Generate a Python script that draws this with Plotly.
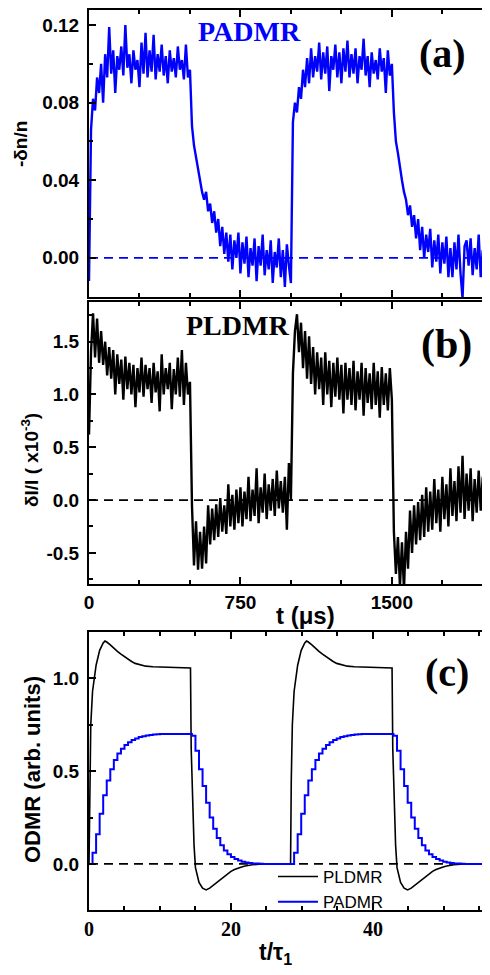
import plotly.graph_objects as go

# ---------------- data ----------------
# panels (a) and (b): time in microseconds, 10 us steps
t_us = list(range(0, 2000, 10))

padmr_a = [
    -0.012, 0.066, 0.082, 0.076, 0.093, 0.085, 0.1, 0.08, 0.105, 0.093,
    0.119, 0.095, 0.107, 0.085, 0.104, 0.097, 0.109, 0.094, 0.12, 0.098,
    0.105, 0.09, 0.107, 0.097, 0.102, 0.088, 0.111, 0.095, 0.116, 0.093,
    0.107, 0.096, 0.115, 0.092, 0.105, 0.096, 0.11, 0.094, 0.104, 0.09,
    0.107, 0.096, 0.103, 0.093, 0.109, 0.097, 0.102, 0.092, 0.11, 0.093,
    0.097, 0.068, 0.058, 0.052, 0.044, 0.04, 0.034, 0.03, 0.034, 0.024,
    0.028, 0.018, 0.024, 0.013, 0.02, 0.006, 0.016, 0.002, 0.013, -0.002,
    0.012, -0.006, 0.009, 0.0, 0.013, -0.008, 0.008, -0.003, 0.011, -0.01,
    0.005, -0.004, 0.01, -0.012, 0.006, -0.004, 0.012, -0.009, 0.004, -0.006,
    0.009, -0.013, 0.003, -0.005, 0.01, -0.01, 0.004, -0.015, 0.007, -0.004,
    -0.013, 0.07, 0.08, 0.075, 0.088, 0.082, 0.097, 0.088, 0.103, 0.09,
    0.108, 0.093, 0.104, 0.096, 0.111, 0.092, 0.106, 0.095, 0.109, 0.086,
    0.104, 0.097, 0.11, 0.093, 0.106, 0.09, 0.108, 0.096, 0.112, 0.093,
    0.105, 0.095, 0.108, 0.09, 0.104, 0.097, 0.113, 0.094, 0.104, 0.088,
    0.106, 0.095, 0.102, 0.092, 0.108, 0.096, 0.103, 0.085, 0.107, 0.094,
    0.1, 0.075, 0.06, 0.054, 0.046, 0.04, 0.034, 0.03, 0.022, 0.027,
    0.016, 0.022, 0.01, 0.02, 0.004, 0.016, 0.0, 0.012, 0.003, 0.015,
    -0.005, 0.009, -0.002, 0.012, -0.008, 0.008, -0.003, 0.011, -0.01, 0.005,
    -0.01, 0.008, -0.006, 0.012, -0.008, -0.021, 0.006, 0.009, -0.004, 0.01,
    -0.009, 0.005, -0.006, 0.012, -0.01, 0.004, -0.007, 0.009, -0.005, 0.006,
]

pldmr_b = [
    0.62, 1.4, 1.77, 1.35, 1.72, 1.3, 1.6, 1.28, 1.5, 1.18,
    1.45, 1.15, 1.42, 1.0, 1.38, 1.1, 1.33, 0.95, 1.36, 1.05,
    1.3, 1.0, 1.28, 0.88, 1.25, 1.02, 1.35, 0.98, 1.28, 1.05,
    1.25, 0.92, 1.3, 1.02, 1.22, 0.84, 1.38, 1.0, 1.25, 1.05,
    1.3, 0.86, 1.24, 1.0, 1.35, 0.98, 1.42, 0.9, 1.3, 1.0,
    1.12, -0.05, -0.62, -0.2, -0.66, -0.3, -0.65, -0.25, -0.6, -0.05,
    -0.42, -0.08, -0.38, -0.04, -0.35, 0.02, -0.3, -0.05, -0.32, 0.15,
    -0.25, 0.05, -0.28, 0.1, -0.22, 0.12, -0.25, 0.08, -0.18, 0.22,
    -0.2, 0.1, -0.15, 0.3, -0.22, 0.12, -0.12, 0.25, -0.18, 0.15,
    -0.1, 0.2, -0.15, 0.28, -0.08, 0.18, -0.12, 0.22, -0.28, 0.35,
    0.0, 1.2, 1.6, 1.76, 1.4, 1.68, 1.25, 1.6, 1.15, 1.55,
    1.1, 1.45, 1.0, 1.4, 1.05, 1.35, 0.9, 1.4, 1.0, 1.32,
    0.88, 1.3, 0.98, 1.35, 0.95, 1.28, 0.82, 1.3, 0.95, 1.25,
    0.9, 1.32, 0.85, 1.22, 0.95, 1.3, 0.8, 1.25, 0.92, 1.2,
    0.86, 1.3, 0.9, 1.22, 0.78, 1.26, 0.9, 1.2, 0.85, 1.25,
    0.95, -0.3, -0.7, -0.35, -0.82, -0.4, -0.85, -0.3, -0.65, -0.1,
    -0.5, -0.05, -0.42, -0.02, -0.38, 0.05, -0.35, 0.12, -0.3, 0.08,
    -0.28, 0.2, -0.22, 0.1, -0.3, 0.22, -0.18, 0.15, -0.25, 0.3,
    -0.15, 0.18, -0.2, 0.32, -0.12, 0.42, -0.18, 0.25, -0.1, 0.3,
    -0.2, 0.2, -0.12, 0.28, -0.1, 0.22, -0.15, 0.3, -0.05, 0.2,
]

# panel (c): model, one modulation cycle in units of t/tau1 (repeated)
cycle_period_c = 28.4
t_c_padmr = [i * 0.5 for i in range(57)]
padmr_c = [
    0.0, 0.06, 0.16, 0.27, 0.37, 0.45, 0.51, 0.56, 0.595, 0.62,
    0.64, 0.655, 0.667, 0.676, 0.683, 0.688, 0.692, 0.695, 0.697, 0.699,
    0.7, 0.7, 0.7, 0.7, 0.7, 0.7, 0.7, 0.7, 0.7,
    0.69, 0.61, 0.51, 0.42, 0.33, 0.25, 0.19, 0.14, 0.1, 0.073,
    0.052, 0.037, 0.026, 0.018, 0.012, 0.008, 0.005, 0.003, 0.002, 0.001,
    0.0, 0.0, 0.0, 0.0, 0.0, 0.0, 0.0, 0.0,
]
t_c_pldmr = [0, 0.1, 0.25, 0.5, 0.75, 1.0, 1.5, 2.0, 2.25, 2.5,
             3.0, 3.5, 4.0, 4.5, 5.0, 5.5, 6.0, 6.5, 7.0, 7.5,
             8.0, 9.0, 10.0, 12.0, 14.3, 14.4, 14.6, 14.8, 15.0, 15.5,
             16.0, 16.5, 17.0, 17.5, 18.0, 18.5, 19.0, 19.5, 20.0, 20.5,
             21.0, 21.5, 22.0, 22.5, 23.0, 24.0, 25.0, 28.0]
pldmr_c = [0.0, 0.45, 0.75, 0.93, 1.01, 1.07, 1.15, 1.19, 1.2, 1.195,
           1.18, 1.16, 1.145, 1.13, 1.115, 1.1, 1.09, 1.08, 1.075, 1.07,
           1.065, 1.062, 1.06, 1.058, 1.055, 0.62, 0.3, 0.1, -0.02, -0.1,
           -0.13, -0.14, -0.13, -0.115, -0.095, -0.08, -0.065, -0.05, -0.04, -0.03,
           -0.022, -0.016, -0.011, -0.007, -0.004, -0.002, 0.0, 0.0]

ticks_us = [0, 750, 1500]
ticks_a = [0.0, 0.04, 0.08, 0.12]
ticklabels_a = ["0.00", "0.04", "0.08", "0.12"]
ticks_b = [-0.5, 0.0, 0.5, 1.0, 1.5]
ticklabels_b = ["-0.5", "0.0", "0.5", "1.0", "1.5"]
ticks_c_x = [0, 20, 40]
ticks_c_y = [0.0, 0.5, 1.0]
ticklabels_c_y = ["0.0", "0.5", "1.0"]

BLUE = "#0000ff"
# the page body adds an 8 px margin, so the figure is drawn 8 px in from the window corner
OFF = 8
W, H = 490 - OFF, 975 - OFF

# two cycles for model curves
tx_blue = t_c_padmr + [t + cycle_period_c for t in t_c_padmr]
ty_blue = padmr_c + padmr_c
tx_black = t_c_pldmr + [t + cycle_period_c for t in t_c_pldmr]
ty_black = pldmr_c + pldmr_c

fig = go.Figure()
fig.add_trace(go.Scatter(x=t_us, y=padmr_a, xaxis="x", yaxis="y", mode="lines",
                         line=dict(color=BLUE, width=2.4), showlegend=False))
fig.add_trace(go.Scatter(x=t_us, y=pldmr_b, xaxis="x2", yaxis="y2", mode="lines",
                         line=dict(color="black", width=2.4), showlegend=False))
fig.add_trace(go.Scatter(x=tx_black, y=ty_black, xaxis="x3", yaxis="y3", mode="lines",
                         name="PLDMR", line=dict(color="black", width=1.6)))
fig.add_trace(go.Scatter(x=tx_blue, y=ty_blue, xaxis="x3", yaxis="y3", mode="lines",
                         name="PADMR", line=dict(color=BLUE, width=2, shape="hv")))


def px_x(s):
    return (s - OFF) / W


def px_y(s):
    return 1 - (s - OFF) / H


xdom = [px_x(89), 1.0]
sans_bold = dict(family="Liberation Sans, Arial", size=19, color="black", weight="bold")
serif_bold = dict(family="Liberation Serif, Times New Roman", size=20, color="black", weight="bold")

base = dict(showline=True, linecolor="black", linewidth=2, ticks="inside", ticklen=7,
            tickwidth=1.5, tickcolor="black", showgrid=False, zeroline=False, automargin=False)


def minor(d):
    return dict(dtick=d, ticks="inside", ticklen=4, tickwidth=1.5, tickcolor="black")


fig.update_layout(
    width=W, height=H, margin=dict(l=0, r=0, t=0, b=0, autoexpand=False),
    paper_bgcolor="white", plot_bgcolor="white",
    xaxis=dict(base, domain=xdom, anchor="y", range=[0, 1986], tickmode="array",
               tickvals=ticks_us, showticklabels=False, mirror="ticks", minor=minor(250)),
    yaxis=dict(base, domain=[px_y(297), px_y(10)], anchor="x", range=[-0.0202, 0.1278],
               tickmode="array", tickvals=ticks_a, ticktext=ticklabels_a, tickfont=sans_bold,
               ticklabelstandoff=4, minor=minor(0.02)),
    xaxis2=dict(base, domain=xdom, anchor="y2", range=[0, 1986], tickmode="array",
                tickvals=ticks_us, tickfont=sans_bold, mirror="ticks", minor=minor(250)),
    yaxis2=dict(base, domain=[px_y(584), px_y(302)], anchor="x2", range=[-0.795, 1.876],
                tickmode="array", tickvals=ticks_b, ticktext=ticklabels_b, tickfont=sans_bold,
                ticklabelstandoff=4, minor=minor(0.25)),
    xaxis3=dict(base, domain=xdom, anchor="y3", range=[0, 56.5], tickmode="array",
                tickvals=ticks_c_x, tickfont=serif_bold, mirror="ticks", minor=minor(5)),
    yaxis3=dict(base, domain=[px_y(910), px_y(632)], anchor="x3", range=[-0.248, 1.249],
                tickmode="array", tickvals=ticks_c_y, ticktext=ticklabels_c_y, tickfont=sans_bold,
                ticklabelstandoff=4, minor=minor(0.25)),
    legend=dict(x=px_x(273), y=px_y(859), xanchor="left", yanchor="top",
                bgcolor="rgba(0,0,0,0)", font=dict(family="Liberation Sans, Arial", size=17, color="black"),
                tracegroupgap=0, itemwidth=40),
    showlegend=True,
)

# dashed zero lines
for yref, xref, col in [("y", "x", BLUE), ("y2", "x2", "black"), ("y3", "x3", "black")]:
    fig.add_shape(type="line", xref=xref + " domain", yref=yref, x0=0, x1=1, y0=0, y1=0,
                  line=dict(color=col, width=1.8, dash="9px,6px"), layer="below")


def ann(text, x, y, font, angle=0):
    fig.add_annotation(text=text, x=px_x(x), y=px_y(y), xref="paper", yref="paper",
                       showarrow=False, xanchor="center", yanchor="middle",
                       textangle=angle, font=font)


ann("<b>PADMR</b>", 249, 31, dict(family="Liberation Serif", size=28, color=BLUE))
ann("<b>PLDMR</b>", 237, 325, dict(family="Liberation Serif", size=28, color="black"))
ann("<b>(a)</b>", 442, 54, dict(family="Liberation Serif", size=40, color="black"))
ann("<b>(b)</b>", 446, 344, dict(family="Liberation Serif", size=42, color="black"))
ann("<b>(c)</b>", 447, 672, dict(family="Liberation Serif", size=40, color="black"))
ann("<b>-δn/n</b>", 21, 144, dict(family="Liberation Sans", size=19, color="black"), -90)
ann("<b>δI/I ( x10<sup>-3</sup>)</b>", 30, 460, dict(family="Liberation Sans", size=19, color="black"), -90)
ann("<b>ODMR (arb. units)</b>", 32, 770, dict(family="Liberation Sans", size=22, color="black"), -90)
ann("<b>t (μs)</b>", 305, 615, dict(family="Liberation Sans", size=24, color="black"))
ann("<b>t/τ<sub>1</sub></b>", 275, 953, dict(family="Liberation Sans", size=23, color="black"))

fig.write_html("out.html")
